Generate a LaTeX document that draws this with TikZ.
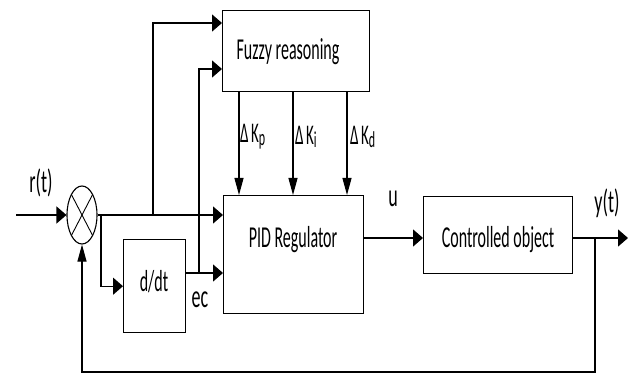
\documentclass[tikz,border=0pt]{standalone}
\usepackage{fontspec}
\setmainfont{Carlito}
\usepackage{graphicx}
\usetikzlibrary{arrows.meta,shapes.geometric,calc}
\newcommand\tx[1]{\scalebox{1}[1.9]{#1}}
\newcommand\tl[1]{\scalebox{1}[1.8]{#1}}
\newcommand\dk[1]{\tx{Δ\,K\raisebox{-0.2ex}{\fontsize{12}{12}\selectfont #1}}}
\begin{document}
\begin{tikzpicture}[x=1pt,y=-1pt,
  box/.style={draw,line width=1.4pt,rectangle,inner sep=0pt,anchor=north west},
  wire/.style={line width=1.4pt},
  harrow/.style={wire,-{Triangle[length=10pt,width=17pt]}},
  varrow/.style={line width=1.1pt,-{Triangle[length=17pt,width=9pt]}},
  txt/.style={font=\fontsize{16}{18}\selectfont,inner sep=0pt},
  lbl/.style={font=\fontsize{18}{20}\selectfont,inner sep=0pt},
  dlbl/.style={font=\fontsize{15}{17}\selectfont,inner sep=0pt}]
\useasboundingbox (0,0) rectangle (637,374);
% boxes
\node[box,minimum width=147pt,minimum height=81pt] (fz) at (222,10) {};
\node[box,minimum width=140pt,minimum height=118pt] (pid) at (223,195) {};
\node[box,minimum width=62pt,minimum height=93pt] (dd) at (123,239) {};
\node[box,minimum width=149pt,minimum height=77pt] (co) at (423,196) {};
\node[draw,line width=1.1pt,ellipse,minimum width=30pt,minimum height=58pt,inner sep=0pt] (sum) at (82,215) {};
\draw[line width=0.9pt] ($(sum.center)+(-10.6,-20.5)$) -- ($(sum.center)+(10.6,20.5)$);
\draw[line width=0.9pt] ($(sum.center)+(10.6,-20.5)$) -- ($(sum.center)+(-10.6,20.5)$);
% texts
\node[txt] (tfz) at (288,52) {\tx{Fuzzy reasoning}};
\node[txt] (tpid) at (293,240) {\tx{PID Regulator}};
\node[txt] (tdd) at (154,282) {\tx{d/dt}};
\node[txt] (tco) at (498,240) {\tx{Controlled object}};
\node[lbl] (tr) at (41,183) {\tl{r(t)}};
\node[lbl] (tu) at (393,199) {\tl{u}};
\node[lbl] (ty) at (607,203) {\tl{y(t)}};
\node[lbl] (tec) at (200,300) {\tl{ec}};
\node[dlbl,anchor=west] (tkp) at (240,137) {\dk{p}};
\node[dlbl,anchor=west] (tki) at (295,137) {\dk{i}};
\node[dlbl,anchor=west] (tkd) at (350,137) {\dk{d}};
% coordinates
\coordinate (in) at (16,215);
\coordinate (b1) at (153,215);
\coordinate (b2) at (101,215);
\coordinate (fzi1) at (222,23);
\coordinate (fzi2) at (222,69);
\coordinate (ddo) at (185,273);
\coordinate (b3) at (199,273);
\coordinate (kp) at (239,0);
\coordinate (ki) at (293,0);
\coordinate (kd) at (347,0);
\coordinate (uo) at (363,238);
\coordinate (yo) at (628,238);
\coordinate (b4) at (595,238);
% connectors
\draw[harrow] (in) -- (sum.west);
\draw[harrow] (sum.east) -- (sum.east -| pid.west);
\draw[harrow] (b1) |- (fzi1);
\draw[harrow] (b2) |- (dd.west);
\draw[harrow] (ddo) -- (ddo -| pid.west);
\draw[harrow] (b3) |- (fzi2);
\draw[varrow] (kp |- fz.south) -- (kp |- pid.north);
\draw[varrow] (ki |- fz.south) -- (ki |- pid.north);
\draw[varrow] (kd |- fz.south) -- (kd |- pid.north);
\draw[harrow] (uo) -- (uo -| co.west);
\draw[harrow] (uo -| co.east) -- (yo);
\draw[wire] (b4) -- ++(0,134) -| ($(sum.south)+(0,17)$);
\draw[varrow] ($(sum.south)+(0,17)$) -- (sum.south);
\end{tikzpicture}
\end{document}
